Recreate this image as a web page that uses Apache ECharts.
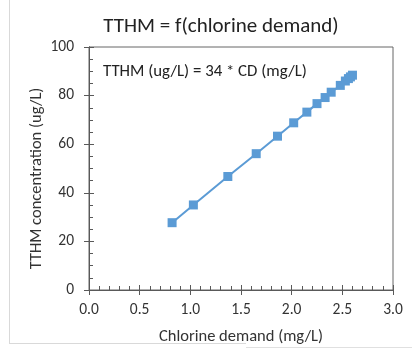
<!DOCTYPE html>
<html>
<head>
<meta charset="utf-8">
<script src="https://cdn.jsdelivr.net/npm/echarts@6/dist/echarts.min.js"></script>
<style>
  html, body { margin: 0; padding: 0; background: #fff; }
  #chart { width: 412px; height: 350px; }
</style>
</head>
<body>
<div id="chart"></div>
<script>
// chlorine demand (mg/L) and TTHM (ug/L)
var chlorineDemand = [0.82, 1.03, 1.37, 1.65, 1.86, 2.02, 2.15, 2.25, 2.33, 2.39, 2.48, 2.53, 2.56, 2.58, 2.60];
var tthm = [27.7, 35.0, 46.7, 56.1, 63.3, 68.8, 73.2, 76.7, 79.2, 81.4, 84.2, 86.0, 87.0, 87.7, 88.4];
var xTicks = [0, 0.5, 1, 1.5, 2, 2.5, 3];
var yTicks = [0, 20, 40, 60, 80, 100];

var font = 'Carlito, Lato, sans-serif';
var textColor = '#333';
var axisColor = '#595959';

var points = chlorineDemand.map(function (x, i) { return [x, tthm[i]]; });

var chart = echarts.init(document.getElementById('chart'));

function xAxisBase(inside) {
    return {
        type: 'value',
        min: xTicks[0],
        max: xTicks[xTicks.length - 1],
        interval: 0.5,
        position: 'bottom',
        axisLine: { show: true, lineStyle: { color: axisColor, width: 1 } },
        axisTick: { show: true, inside: inside, length: 5, lineStyle: { color: axisColor } },
        minorTick: { show: inside, splitNumber: 5, length: 4, lineStyle: { color: axisColor } },
        splitLine: { show: false },
        axisLabel: {
            show: !inside,
            margin: 12,
            color: textColor,
            fontFamily: font,
            fontSize: 15.5,
            formatter: function (v) { return v.toFixed(1); }
        }
    };
}

function yAxisBase(inside) {
    return {
        type: 'value',
        min: yTicks[0],
        max: yTicks[yTicks.length - 1],
        interval: 20,
        position: 'left',
        axisLine: { show: true, lineStyle: { color: axisColor, width: 1 } },
        axisTick: { show: true, inside: inside, length: 5, lineStyle: { color: axisColor } },
        minorTick: { show: inside, splitNumber: 4, length: 4, lineStyle: { color: axisColor } },
        splitLine: { show: false },
        axisLabel: {
            show: !inside,
            margin: 15,
            color: textColor,
            fontFamily: font,
            fontSize: 15.5
        }
    };
}

var xOuter = xAxisBase(false);
xOuter.name = 'Chlorine demand (mg/L)';
xOuter.nameLocation = 'middle';
xOuter.nameGap = 38;
xOuter.nameMoveOverlap = false;
xOuter.nameTextStyle = { color: textColor, fontFamily: font, fontSize: 16.5 };

var yOuter = yAxisBase(false);
yOuter.name = 'TTHM concentration (ug/L)';
yOuter.nameLocation = 'middle';
yOuter.nameGap = 44;
yOuter.nameMoveOverlap = false;
yOuter.nameTextStyle = { color: textColor, fontFamily: font, fontSize: 16.5, padding: [0, 20, 0, 0] };

var option = {
    animation: false,
    backgroundColor: '#fff',
    title: {
        text: 'TTHM = f(chlorine demand)',
        left: 216,
        top: 11,
        textAlign: 'center',
        textStyle: { color: '#222', fontFamily: font, fontSize: 21, fontWeight: 'normal' }
    },
    grid: {
        left: 89, right: 19, top: 47, bottom: 57,
        show: true,
        borderColor: '#666',
        borderWidth: 1,
        backgroundColor: 'transparent'
    },
    xAxis: [xOuter, xAxisBase(true)],
    yAxis: [yOuter, yAxisBase(true)],
    graphic: [
        {
            type: 'text',
            left: 103,
            top: 63,
            style: { text: 'TTHM (ug/L) = 34 * CD (mg/L)', fill: '#222', font: '16.8px ' + font }
        },
        { type: 'line', shape: { x1: 9.5, y1: 0, x2: 9.5, y2: 343.5 }, style: { stroke: '#d9d9d9', lineWidth: 1 } },
        { type: 'line', shape: { x1: 9, y1: 343.5, x2: 246, y2: 343.5 }, style: { stroke: '#d9d9d9', lineWidth: 1 } },
        { type: 'line', shape: { x1: 246, y1: 347.5, x2: 412, y2: 347.5 }, style: { stroke: '#e0e0e0', lineWidth: 1 } }
    ],
    series: [{
        type: 'line',
        xAxisIndex: 0,
        yAxisIndex: 0,
        data: points,
        symbol: 'rect',
        symbolSize: 9,
        lineStyle: { color: '#5b9bd5', width: 2 },
        itemStyle: { color: '#5b9bd5' }
    }]
};

chart.setOption(option);
</script>
</body>
</html>
